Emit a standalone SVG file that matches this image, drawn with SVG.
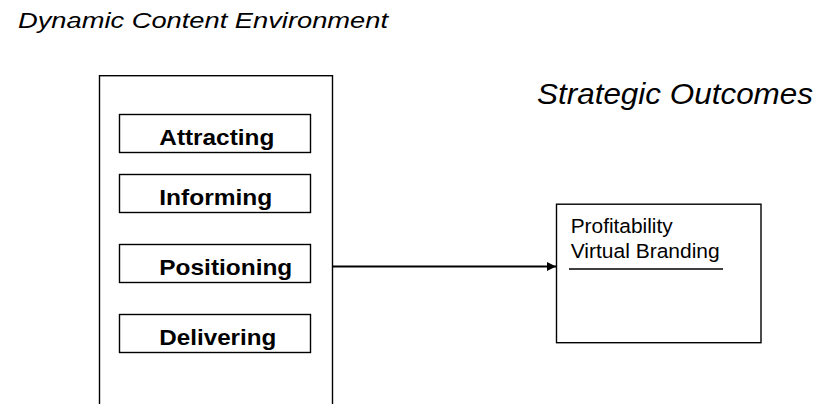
<svg xmlns="http://www.w3.org/2000/svg" width="819" height="404" viewBox="0 0 819 404">
  <style>
    .box { fill: #ffffff; stroke: #000000; stroke-width: 1.4; }
    .item { font-family: "Liberation Sans", Arial, sans-serif; font-weight: bold; font-size: 22px; fill: #000000; }
    .heading { font-family: "Liberation Sans", Arial, sans-serif; font-style: italic; fill: #000000; }
    .body { font-family: "Liberation Sans", Arial, sans-serif; font-size: 20.5px; fill: #000000; }
    .wire { stroke: #000000; stroke-width: 1.8; fill: none; }
  </style>
  <defs>
    <marker id="arrow" viewBox="0 0 10 10" refX="10" refY="5" markerWidth="11" markerHeight="9" markerUnits="userSpaceOnUse" orient="auto">
      <path d="M0,0 L10,5 L0,10 z" fill="#000000"/>
    </marker>
  </defs>
  <rect width="819" height="404" fill="#ffffff"/>

  <text class="heading" x="18" y="28" font-size="22.5" textLength="370" lengthAdjust="spacingAndGlyphs">Dynamic Content Environment</text>
  <text class="heading" x="537" y="103.5" font-size="29" textLength="276" lengthAdjust="spacingAndGlyphs">Strategic Outcomes</text>

  <g id="content-environment">
    <rect class="box" x="99.5" y="75.7" width="233" height="340"/>
    <g id="attracting">
      <rect class="box" x="119.5" y="114.5" width="191" height="38"/>
      <text class="item" x="159.3" y="144.5" textLength="115" lengthAdjust="spacingAndGlyphs">Attracting</text>
    </g>
    <g id="informing">
      <rect class="box" x="119.5" y="174.5" width="191" height="38"/>
      <text class="item" x="159.3" y="204.5" textLength="113" lengthAdjust="spacingAndGlyphs">Informing</text>
    </g>
    <g id="positioning">
      <rect class="box" x="119.5" y="244.5" width="191" height="38"/>
      <text class="item" x="159.3" y="274.5" textLength="133" lengthAdjust="spacingAndGlyphs">Positioning</text>
    </g>
    <g id="delivering">
      <rect class="box" x="119.5" y="314.5" width="191" height="38"/>
      <text class="item" x="159.3" y="344.5" textLength="117" lengthAdjust="spacingAndGlyphs">Delivering</text>
    </g>
  </g>

  <g id="strategic-outcomes">
    <rect class="box" x="556.5" y="204.2" width="204.5" height="138.5"/>
    <text class="body" x="570.7" y="232.7" textLength="102" lengthAdjust="spacingAndGlyphs">Profitability</text>
    <text class="body" x="570.7" y="258.3" textLength="149" lengthAdjust="spacingAndGlyphs">Virtual Branding</text>
    <line x1="569" y1="269" x2="723" y2="269" stroke="#000000" stroke-width="1.3"/>
  </g>

  <g id="connectors">
    <line class="wire" x1="333" y1="266.5" x2="556" y2="266.5" marker-end="url(#arrow)"/>
  </g>
</svg>
